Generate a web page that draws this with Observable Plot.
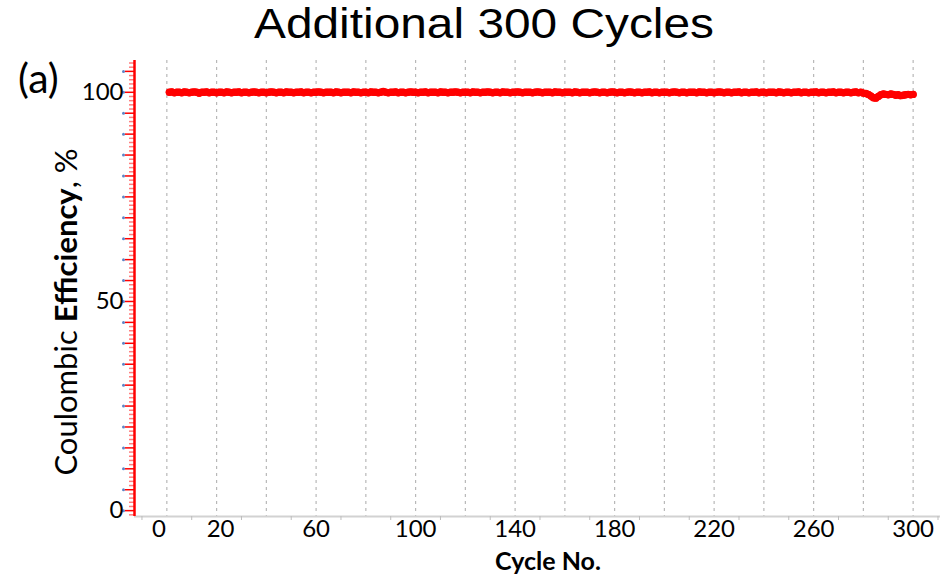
<!DOCTYPE html>
<html>
<head>
<meta charset="utf-8">
<script src="https://cdn.jsdelivr.net/npm/d3@7"></script>
<script src="https://cdn.jsdelivr.net/npm/@observablehq/plot@0.6"></script>
<style>
  html, body { margin: 0; padding: 0; background: #fff; }
  #chart svg { display: block; }
</style>
</head>
<body>
<div id="chart"></div>
<script>
// Coulombic efficiency (%) for each cycle, cycle 1 through 300
const ceValues = [
  100.0,100.1,99.9,100.0,100.0,99.9,100.1,100.0,99.9,100.0,100.1,100.0,99.8,100.0,100.0,100.1,99.9,100.0,100.0,99.9,
  100.0,100.0,99.9,100.1,100.0,99.9,100.0,100.0,100.1,99.9,100.0,100.0,99.9,100.0,100.1,100.0,99.9,100.0,100.0,99.9,
  100.0,100.1,100.0,99.9,100.0,100.0,99.9,100.1,100.0,100.0,99.9,100.0,100.0,100.1,99.9,100.0,100.0,99.9,100.0,100.0,
  100.1,100.0,99.9,100.0,100.0,100.0,99.9,100.1,100.0,99.9,100.0,100.0,100.0,99.9,100.1,100.0,100.0,99.9,100.0,100.0,
  99.9,100.1,100.0,100.0,99.9,100.0,100.2,100.0,99.9,100.0,100.0,100.1,99.9,100.0,100.0,99.9,100.0,100.1,100.0,100.0,
  99.9,100.0,100.0,100.1,99.9,100.0,100.0,100.0,99.9,100.1,100.0,100.0,99.9,100.0,100.0,100.1,100.0,99.9,100.0,100.0,
  100.0,99.9,100.1,100.0,100.0,99.9,100.0,100.0,100.1,100.0,99.9,100.0,100.0,99.9,100.1,100.0,100.0,99.9,100.0,100.0,
  100.1,100.0,99.9,100.0,100.0,100.0,99.9,100.0,100.1,100.0,99.9,100.0,100.0,100.0,99.9,100.1,100.0,100.0,99.9,100.0,
  100.0,100.0,99.9,100.1,100.0,99.9,100.0,100.0,100.0,99.9,100.0,100.1,100.0,99.9,100.0,100.0,99.9,100.0,100.1,100.0,
  99.9,100.0,100.0,99.9,100.0,100.1,100.0,99.9,100.0,100.0,99.9,100.0,100.0,100.1,99.9,100.0,100.0,99.9,100.0,100.0,
  100.0,99.9,100.0,100.1,100.0,99.9,100.0,100.0,99.9,100.0,100.0,100.0,99.9,100.1,100.0,100.0,99.9,100.0,100.0,99.9,
  100.0,100.1,100.0,99.9,100.0,100.0,99.9,100.0,100.0,100.1,99.9,100.0,100.0,99.9,100.0,100.0,100.1,99.9,100.0,100.0,
  99.9,100.0,100.0,100.0,99.9,100.1,100.0,99.9,100.0,100.0,99.9,100.0,100.0,100.1,99.9,100.0,100.0,99.9,100.0,100.0,
  100.1,99.9,100.0,100.0,99.9,100.0,100.0,100.1,99.9,100.0,100.0,99.9,100.0,100.0,99.9,100.0,100.1,99.9,100.0,99.8,
  99.7,99.5,99.1,98.7,98.6,99.0,99.4,99.6,99.5,99.4,99.6,99.5,99.3,99.4,99.2,99.3,99.4,99.5,99.4,99.5
];

// Axis ticks and labels
const xTickLabels = [60, 100, 140, 180, 220, 260, 300];
const xFirstLabel = [0];
const xSecondLabel = [20];
const xGridCycles = [0, 20, 40, 60, 80, 100, 120, 140, 160, 180, 200, 220, 240, 260, 280, 300];
const xMinorTicks = [-10, 10, 30, 50, 70, 90, 110, 130, 150, 170, 190, 210, 230, 250, 270, 290, 310];
const yTickLabels = [0, 50, 100];
const yMajorTicks = [0, 5, 10, 15, 20, 25, 30, 35, 40, 45, 50, 55, 60, 65, 70, 75, 80, 85, 90, 95, 100, 105];
const yMinorTicks = d3.range(-1, 108).filter(v => v % 5 !== 0);

const chartTitle = "Additional 300 Cycles";
const panelLabel = "(a)";
const xTitle = "Cycle No.";
const yTitleParts = [["Coulombic ", "normal"], ["Efficiency", "bold"], [", %", "normal"]];

const xDomain = [-13, 311];
const yDomain = [-1.4, 107.6];

const data = ceValues.map((v, i) => ({cycle: i + 1, ce: v}));

const red = "#ff0000";
const xLabelStyle = {tickSize: 0, tickPadding: 3, fontSize: 24, label: null};

const plot = Plot.plot({
  width: 945,
  height: 578,
  marginTop: 60,
  marginBottom: 62,
  marginLeft: 134,
  marginRight: 5,
  style: {fontFamily: "Lato, 'Open Sans', sans-serif", fontSize: "24px", background: "#fff", color: "#000", overflow: "visible"},
  x: {domain: xDomain, axis: null},
  y: {domain: yDomain, axis: null},
  marks: [
    // vertical dashed gridlines
    Plot.ruleX(xGridCycles, {stroke: "#b8b8b8", strokeWidth: 1.2, strokeDasharray: "3,4"}),
    // bottom axis line
    Plot.ruleY([yDomain[0]], {stroke: "#d2d2d2", strokeWidth: 2}),
    // minor x ticks
    Plot.axisX({ticks: xMinorTicks, tickSize: 4, stroke: "#bdbdbd", fill: "none", label: null}),
    // x tick labels (the first two sit slightly off their gridlines)
    Plot.axisX({ticks: xFirstLabel, ...xLabelStyle, dx: -8}),
    Plot.axisX({ticks: xSecondLabel, ...xLabelStyle, dx: 4}),
    Plot.axisX({ticks: xTickLabels, ...xLabelStyle}),
    // red y axis with dense ticks
    Plot.axisY({ticks: yMinorTicks, tickSize: 5, stroke: "#ff7d7d", strokeWidth: 1.5, fill: "none", label: null}),
    Plot.axisY({ticks: yMajorTicks, tickSize: 9, stroke: red, strokeWidth: 1.5, fill: "none", label: null}),
    Plot.ruleX([xDomain[0]], {stroke: red, strokeWidth: 2.5}),
    // small markers beside the major y ticks
    Plot.dot(yMajorTicks, {y: d => d, frameAnchor: "left", dx: -11, r: 1.5, fill: "#5f84c6"}),
    // y tick labels
    Plot.axisY({ticks: yTickLabels, tickSize: 0, tickPadding: 11, fontSize: 24, label: null}),
    // coulombic efficiency series
    Plot.line(data, {x: "cycle", y: "ce", stroke: red, strokeWidth: 7, strokeLinejoin: "round", strokeLinecap: "round"}),
    Plot.dot(data, {x: "cycle", y: "ce", r: 3.7, fill: red, stroke: "none"})
  ]
});

const svg = d3.select(plot);
const xs = plot.scale("x");
const ys = plot.scale("y");
const frameLeft = xs.range[0];
const frameRight = xs.range[1];
const frameBottom = ys.range[0];
const frameMid = (frameLeft + frameRight) / 2;

// chart title
svg.append("text")
  .attr("x", frameMid - 53)
  .attr("y", 38)
  .attr("text-anchor", "middle")
  .attr("font-family", "'Liberation Sans', Arial, sans-serif")
  .attr("font-size", 42)
  .attr("textLength", 460)
  .attr("lengthAdjust", "spacingAndGlyphs")
  .attr("fill", "#000")
  .text(chartTitle);

// panel label
svg.append("text")
  .attr("x", 18)
  .attr("y", 93)
  .attr("text-anchor", "start")
  .attr("font-family", "Lato, sans-serif")
  .attr("font-size", 41)
  .attr("fill", "#000")
  .text(panelLabel);

// x axis title
svg.append("text")
  .attr("x", frameMid + 11)
  .attr("y", frameBottom + 54)
  .attr("text-anchor", "middle")
  .attr("font-family", "Lato, sans-serif")
  .attr("font-size", 25)
  .attr("font-weight", "bold")
  .attr("fill", "#000")
  .text(xTitle);

// y axis title, with the middle word in bold
const yt = svg.append("text")
  .attr("transform", `translate(${frameLeft - 57},312) rotate(-90)`)
  .attr("text-anchor", "middle")
  .attr("font-family", "Lato, sans-serif")
  .attr("font-size", 31)
  .attr("fill", "#000");
yTitleParts.forEach(([t, w]) => yt.append("tspan").attr("font-weight", w).text(t));

document.getElementById("chart").append(plot);
</script>
</body>
</html>
